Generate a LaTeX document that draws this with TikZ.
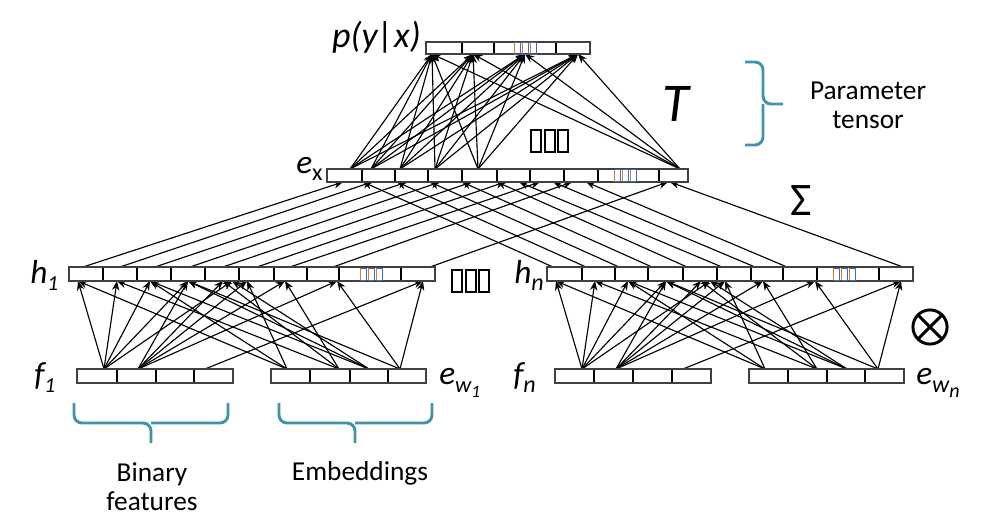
\documentclass[tikz,border=0pt]{standalone}
\usepackage{fontspec}
\setmainfont{Carlito}
\usetikzlibrary{arrows.meta}
\definecolor{braceblue}{RGB}{64,148,170}
\definecolor{tofuor}{RGB}{205,125,45}
\definecolor{tofubl}{RGB}{60,110,190}
\tikzset{
  conn/.style={line width=0.85pt, -{Stealth[length=7pt,width=5.5pt]}},
  vecbox/.style={draw=black!75, line width=1pt, fill=white},
  divider/.style={line width=2pt},
  bracepath/.style={draw=braceblue, line width=2.2pt, rounded corners=6pt},
  lab/.style={font=\fontsize{25}{27}\selectfont\itshape, inner sep=0pt},
  txt/.style={font=\fontsize{20.5}{24}\selectfont, align=center, inner sep=0pt},
}
\newcommand\smalltofu[2]{%
  \foreach \k in {0,1,2}{%
    \draw[tofubl, line width=0.7pt] (#1+\k*8,#2-6) rectangle ++(6,12);
    \draw[tofuor, line width=0.7pt] (#1+\k*8,#2-6) -- ++(0,12);}}
\newcommand\bigtofu[2]{%
  \foreach \k in {0,1,2}{%
    \draw[line width=1.5pt] (#1+\k*13.5,#2-11) rectangle ++(10,22);}}
\newcommand\vecrow[4]{% name, y top, y bottom, list of x (first and last are ends)
  \foreach \x [count=\i] in {#4}{\xdef\lastx{\x}\ifnum\i=1 \xdef\firstx{\x}\fi}
  \draw[vecbox] (\firstx,#2) rectangle (\lastx,#3);
  \foreach \x in {#4}{\draw[divider] (\x,#2) -- (\x,#3);}
  \draw[black!75, line width=1pt] (\firstx,#2) rectangle (\lastx,#3);
  \coordinate (#1) at (\firstx,#2);}
\begin{document}
\begin{tikzpicture}[x=0.75pt,y=-0.75pt]
\useasboundingbox (0,0) rectangle (992,522);

% ---------- e_x -> p(y|x) ----------
\foreach \s [count=\i] in {350,371,400,435,478,680}{
  \coordinate (exs\i) at (\s,169);}
\foreach \t [count=\j] in {432,473,525,578}{
  \coordinate (pyt\j) at (\t,54);}
\foreach \i in {1,...,6}{
  \foreach \j in {1,...,4}{
    \draw[conn] (exs\i) -- (pyt\j);}}

% ---------- h -> e_x ----------
\foreach \s/\t [count=\i] in {83/343,120/372,155/407,190/440,223/472,257/505,290/540,333/572,430/668}{
  \coordinate (hos\i) at (\s,267);
  \coordinate (exa\i) at (\t,182);
  \draw[conn] (hos\i) -- (exa\i);}
\foreach \s/\t [count=\i] in {553/363,586/397,619/430,652/462,687/497,722/519,755/553,787/586,903/670}{
  \coordinate (hns\i) at (\s,267);
  \coordinate (exb\i) at (\t,182);
  \draw[conn] (hns\i) -- (exb\i);}

% ---------- inputs -> h (two copies, offset 478) ----------
\foreach \off/\nm in {0/a,478/b}{
  \foreach \s/\tl [count=\i] in {104/{78,117,150,188,232},138/{188,223,247,285,337},205/{423},
      287/{78,150,247},339/{117,223,285},369/{150,188,232},400/{188,337,423}}{
    \coordinate (src\nm\i) at (\s+\off,369);
    \foreach \t in \tl{
      \coordinate (tgt\nm) at (\t+\off,281);
      \draw[conn] (src\nm\i) -- (tgt\nm);}}}

% ---------- vectors ----------
\vecrow{py}{42}{54}{426,462,494,556,590}
\smalltofu{514}{48}
\vecrow{ex}{169}{182}{327,362,395,428,462,497,530,564,598,659,688}
\smalltofu{614}{175.5}
\vecrow{h1}{267}{281}{69,103,137,171,205,239,274,307,339,401,435}
\smalltofu{360}{274}
\vecrow{hn}{267}{281}{547,582,615,648,683,717,751,783,817,879,913}
\smalltofu{833}{274}
\vecrow{f1}{369}{383}{77,117,156,194,233}
\vecrow{ew1}{369}{383}{271,310,350,388,426}
\vecrow{fn}{369}{383}{555,594,633,672,711}
\vecrow{ewn}{369}{383}{749,788,827,865,904}

\bigtofu{531}{141}
\bigtofu{452}{281}

% ---------- labels ----------
\node[lab, font=\fontsize{27}{29}\selectfont\itshape, anchor=east] (lpy) at (421,37) {p(y|x)};
\node[lab, anchor=base west] (lex) at (296,173) {e\raisebox{-0.45ex}{\upshape\fontsize{18}{18}\selectfont x}};
\node[lab, anchor=base west] (lh1) at (30,283) {h\raisebox{-0.45ex}{\fontsize{16}{16}\selectfont 1}};
\node[lab, anchor=base west] (lhn) at (514,283) {h\raisebox{-0.45ex}{\fontsize{18}{18}\selectfont n}};
\node[lab, anchor=base west] (lf1) at (34,385) {f\raisebox{-0.45ex}{\fontsize{16}{16}\selectfont 1}};
\node[lab, anchor=base west] (lfn) at (513,385) {f\raisebox{-0.45ex}{\fontsize{18}{18}\selectfont n}};
\node[lab, anchor=base west] (lew1) at (439,384) {e\raisebox{-0.5ex}{\fontsize{17}{17}\selectfont w\raisebox{-0.5ex}{\fontsize{13}{13}\selectfont 1}}};
\node[lab, anchor=base west] (lewn) at (916,384) {e\raisebox{-0.5ex}{\fontsize{18}{18}\selectfont w\raisebox{-0.5ex}{\fontsize{15}{15}\selectfont n}}};
\node[inner sep=0pt, font=\fontsize{41}{41}\selectfont\itshape] (lT) at (676,104) {T};
\node[inner sep=0pt, font=\fontsize{35}{35}\selectfont] (lS) at (801,201) {Σ};
\node[txt] (ptens) at (868,105) {Parameter\\[-2pt]tensor};
\node[txt] (lbin) at (152,487) {Binary\\[-2pt]features};
\node[txt, anchor=base] (lemb) at (360,480) {Embeddings};

% otimes
\coordinate (ot) at (930,327);
\draw[line width=2.2pt] (ot) circle[radius=12.8pt];
\draw[line width=2.2pt] (ot) +(45:12.8pt) -- +(225:12.8pt);
\draw[line width=2.2pt] (ot) +(135:12.8pt) -- +(315:12.8pt);

% braces
\draw[bracepath] (745,62) -- (763,62) -- (763,104) -- (783,104);
\draw[bracepath] (745,145) -- (763,145) -- (763,104);
\draw[bracepath] (74,403) -- (74,423) -- (151,423) -- (151,443);
\draw[bracepath] (228,403) -- (228,423) -- (151,423);
\draw[bracepath] (279,403) -- (279,423) -- (355,423) -- (355,443);
\draw[bracepath] (432,403) -- (432,423) -- (355,423);
\end{tikzpicture}
\end{document}
